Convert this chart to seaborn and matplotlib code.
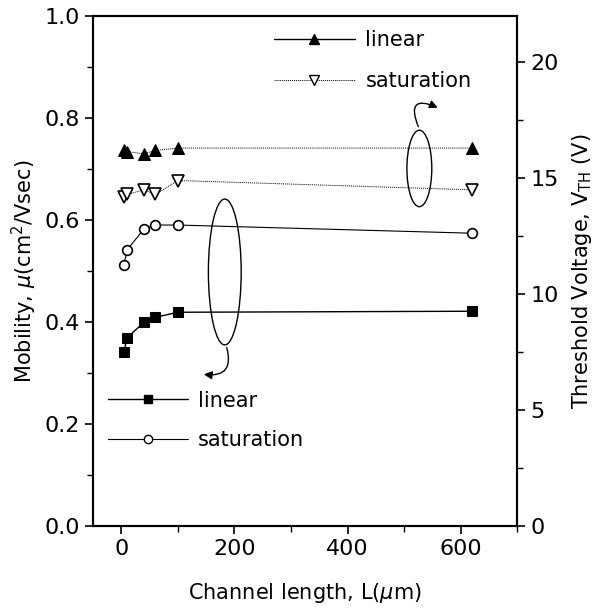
import pandas as pd
import seaborn as sns
import matplotlib.pyplot as plt
from matplotlib.patches import Ellipse
from matplotlib.lines import Line2D
from matplotlib.ticker import MultipleLocator

sns.set_style("ticks")
plt.rcParams.update({"font.size": 14, "font.family": ["DejaVu Sans"],
                     "text.color": "k", "axes.labelcolor": "k"})

# channel lengths (um)
length = [5, 10, 40, 60, 100, 620]
# mobility (cm2/Vsec), left axis
mu_linear = [0.342, 0.369, 0.399, 0.409, 0.419, 0.421]
mu_sat = [0.512, 0.541, 0.582, 0.590, 0.590, 0.574]
# threshold voltage (V), right axis
vth_linear = [16.2, 16.15, 16.05, 16.2, 16.3, 16.3]
vth_sat = [14.2, 14.3, 14.5, 14.3, 14.9, 14.5]

df = pd.DataFrame({"L": length, "mu_lin": mu_linear, "mu_sat": mu_sat,
                   "vth_lin": vth_linear, "vth_sat": vth_sat})

fig = plt.figure(figsize=(6, 6.13), dpi=100)
ax = fig.add_axes([0.155, 0.142, 0.707, 0.832])
ax2 = ax.twinx()

# mobility
sns.lineplot(data=df, x="L", y="mu_lin", ax=ax, color="k", lw=1.0,
             marker="s", markersize=7, markeredgecolor="k", markerfacecolor="k")
sns.lineplot(data=df, x="L", y="mu_sat", ax=ax, color="k", lw=0.8,
             marker="o", markersize=7, markeredgecolor="k", markerfacecolor="white",
             markeredgewidth=1.2)
# threshold voltage
sns.lineplot(data=df, x="L", y="vth_lin", ax=ax2, color="k", lw=0.7, ls=(0, (1, 1)),
             marker="^", markersize=9, markeredgecolor="k", markerfacecolor="k")
sns.lineplot(data=df, x="L", y="vth_sat", ax=ax2, color="k", lw=0.7, ls=(0, (1, 1)),
             marker="v", markersize=8, markeredgecolor="k", markerfacecolor="white",
             markeredgewidth=1.2)

ax.set_xlim(-50, 700)
ax.set_ylim(0, 1.0)
ax2.set_ylim(0, 22)
ax.xaxis.set_major_locator(MultipleLocator(200))
ax.xaxis.set_minor_locator(MultipleLocator(100))
ax.yaxis.set_major_locator(MultipleLocator(0.2))
ax.yaxis.set_minor_locator(MultipleLocator(0.1))
ax2.yaxis.set_major_locator(MultipleLocator(5))
ax2.yaxis.set_minor_locator(MultipleLocator(2.5))
ax.yaxis.set_major_formatter(plt.FormatStrFormatter("%.1f"))

for a in (ax, ax2):
    for s in a.spines.values():
        s.set_linewidth(1.5)
        s.set_color("k")
    a.tick_params(which="major", length=6, width=1.2, labelsize=16, colors="k")
    a.tick_params(which="minor", length=4, width=1.0, colors="k")

ax.set_xlabel("Channel length, L($\\mu$m)", fontsize=15, labelpad=16, color="k")
ax.set_ylabel("Mobility, $\\mu$(cm$^2$/Vsec)", fontsize=15, labelpad=4, color="k")
ax2.set_ylabel("Threshold Voltage, V$_{\\mathrm{TH}}$ (V)", fontsize=15, labelpad=8,
               color="k")

# ellipses and arrows marking which axis each pair belongs to
ax.add_patch(Ellipse((183, 0.498), 58, 0.286, fill=False, ec="k", lw=1.0))
ax.annotate("", xy=(141, 0.298), xytext=(185, 0.355),
            arrowprops=dict(arrowstyle="-|>", color="k", lw=1.0,
                            connectionstyle="arc3,rad=-0.8", mutation_scale=12))
ax.add_patch(Ellipse((527, 0.701), 44, 0.150, fill=False, ec="k", lw=1.0))
ax.annotate("", xy=(564, 0.818), xytext=(527, 0.778),
            arrowprops=dict(arrowstyle="-|>", color="k", lw=1.0,
                            connectionstyle="arc3,rad=-1.3", mutation_scale=12))

# legends
top_handles = [
    Line2D([], [], color="k", lw=1.0, marker="^", markersize=7, markerfacecolor="k"),
    Line2D([], [], color="k", lw=0.7, ls=(0, (1, 1)), marker="v", markersize=7,
           markerfacecolor="white"),
]
leg1 = ax2.legend(top_handles, ["linear", "saturation"], loc="upper left",
                  bbox_to_anchor=(0.382, 1.009), frameon=False, handlelength=3.9,
                  fontsize=15, labelspacing=1.0, handletextpad=0.5, labelcolor="k")
ax2.add_artist(leg1)
bot_handles = [
    Line2D([], [], color="k", lw=1.0, marker="s", markersize=6, markerfacecolor="k"),
    Line2D([], [], color="k", lw=0.8, marker="o", markersize=6, markerfacecolor="white"),
]
ax2.legend(bot_handles, ["linear", "saturation"], loc="upper left",
           bbox_to_anchor=(-0.01, 0.302), frameon=False, handlelength=3.85,
           fontsize=15, labelspacing=0.95, handletextpad=0.5, labelcolor="k")

plt.savefig("out.png", dpi=100)
